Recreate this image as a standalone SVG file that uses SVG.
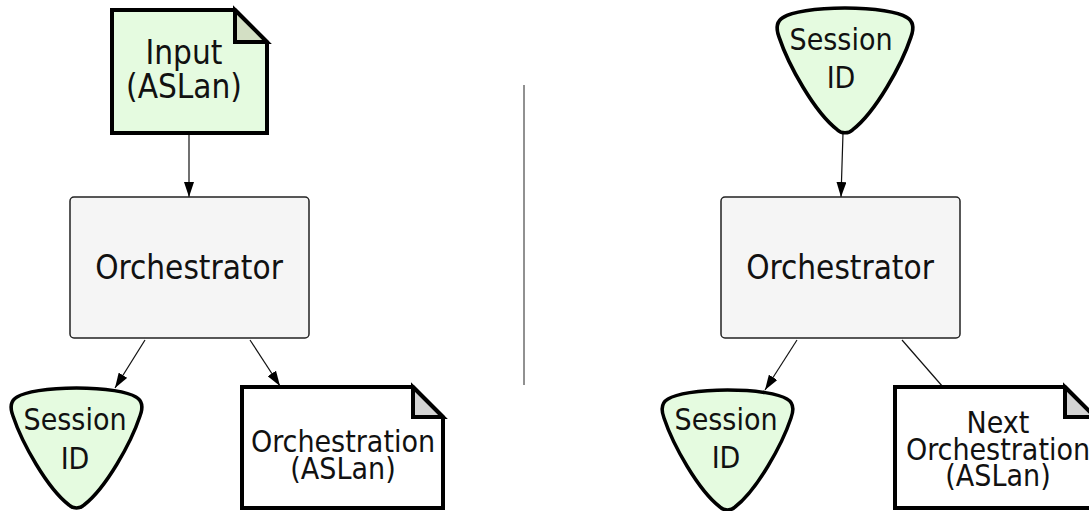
<svg xmlns="http://www.w3.org/2000/svg" width="1089" height="511" viewBox="0 0 1089 511">
<style>
text{font-family:"DejaVu Sans Condensed","DejaVu Sans",sans-serif;font-stretch:condensed;fill:#111;text-anchor:middle}
.doc{stroke:#000;stroke-width:4;stroke-linejoin:miter}
.fold{stroke:#000;stroke-width:4}
.box{fill:#f5f5f5;stroke:#222;stroke-width:1.5}
.pick{fill:#e5fbe0;stroke:#000;stroke-width:3.5}
.edge{stroke:#111;stroke-width:1.2;fill:none}
</style>
<defs>
<marker id="arr" viewBox="0 0 15 10" refX="15" refY="5" markerWidth="15" markerHeight="10" markerUnits="userSpaceOnUse" orient="auto">
<path d="M0,0 L15,5 L0,10 Z" fill="#000"/>
</marker>
<path id="pickShape" d="M65.5,0 C95,0 117,4 125,9 C132,13 132,20 129,28 C120,55 95,100 73,117 C69,121 62,121 58,117 C36,100 11,55 2,28 C-1,20 -1,13 6,9 C14,4 36,0 65.5,0 Z"/>
</defs>
<g id="connectors">
<line class="edge" x1="189" y1="133" x2="189" y2="197" marker-end="url(#arr)"/>
<line class="edge" x1="145" y1="340" x2="115" y2="388" marker-end="url(#arr)"/>
<line class="edge" x1="250" y1="340" x2="280" y2="386" marker-end="url(#arr)"/>
<line class="edge" x1="843" y1="133" x2="841" y2="197" marker-end="url(#arr)"/>
<line class="edge" x1="797" y1="340" x2="765" y2="390" marker-end="url(#arr)"/>
<line class="edge" x1="902" y1="340" x2="943" y2="387"/>
</g>
<line id="divider" x1="524" y1="85" x2="524" y2="385" stroke="#222" stroke-width="1"/>
<g id="input">
<path class="doc" d="M112,10 L235,10 L267,42 L267,133 L112,133 Z" fill="#e5fbe0"/>
<path class="fold" d="M235,10 L235,42 L267,42 Z" fill="#d3dfc4"/>
<text x="184" y="64" font-size="33">Input</text>
<text x="184" y="98" font-size="33">(ASLan)</text>
</g>
<g id="orch-left">
<rect class="box" x="70" y="197" width="239" height="141" rx="4"/>
<text x="189" y="279" font-size="33">Orchestrator</text>
</g>
<g id="session-left">
<use href="#pickShape" class="pick" transform="translate(11,388)"/>
<text x="75" y="430" font-size="30">Session</text>
<text x="75" y="469" font-size="30">ID</text>
</g>
<g id="orchestration-left">
<path class="doc" d="M242,387 L413,387 L443,417 L443,508 L242,508 Z" fill="#fff"/>
<path class="fold" d="M413,387 L413,417 L443,417 Z" fill="#d3d3d3"/>
<text x="343" y="452" font-size="30">Orchestration</text>
<text x="343" y="479" font-size="30">(ASLan)</text>
</g>
<g id="session-top-right">
<use href="#pickShape" class="pick" transform="translate(777,8) scale(1.038,1.04)"/>
<text x="841" y="50" font-size="30">Session</text>
<text x="841" y="88" font-size="30">ID</text>
</g>
<g id="orch-right">
<rect class="box" x="721" y="197" width="239" height="141" rx="4"/>
<text x="840" y="279" font-size="33">Orchestrator</text>
</g>
<g id="session-bottom-right">
<use href="#pickShape" class="pick" transform="translate(662,390)"/>
<text x="726" y="430" font-size="30">Session</text>
<text x="726" y="468" font-size="30">ID</text>
</g>
<g id="next-orchestration">
<path class="doc" d="M895,387 L1065,387 L1095,417 L1095,508 L895,508 Z" fill="#fff"/>
<path class="fold" d="M1065,387 L1065,417 L1095,417 Z" fill="#d3d3d3"/>
<text x="998" y="433" font-size="30">Next</text>
<text x="998" y="460" font-size="30">Orchestration</text>
<text x="998" y="486" font-size="30">(ASLan)</text>
</g>
</svg>
